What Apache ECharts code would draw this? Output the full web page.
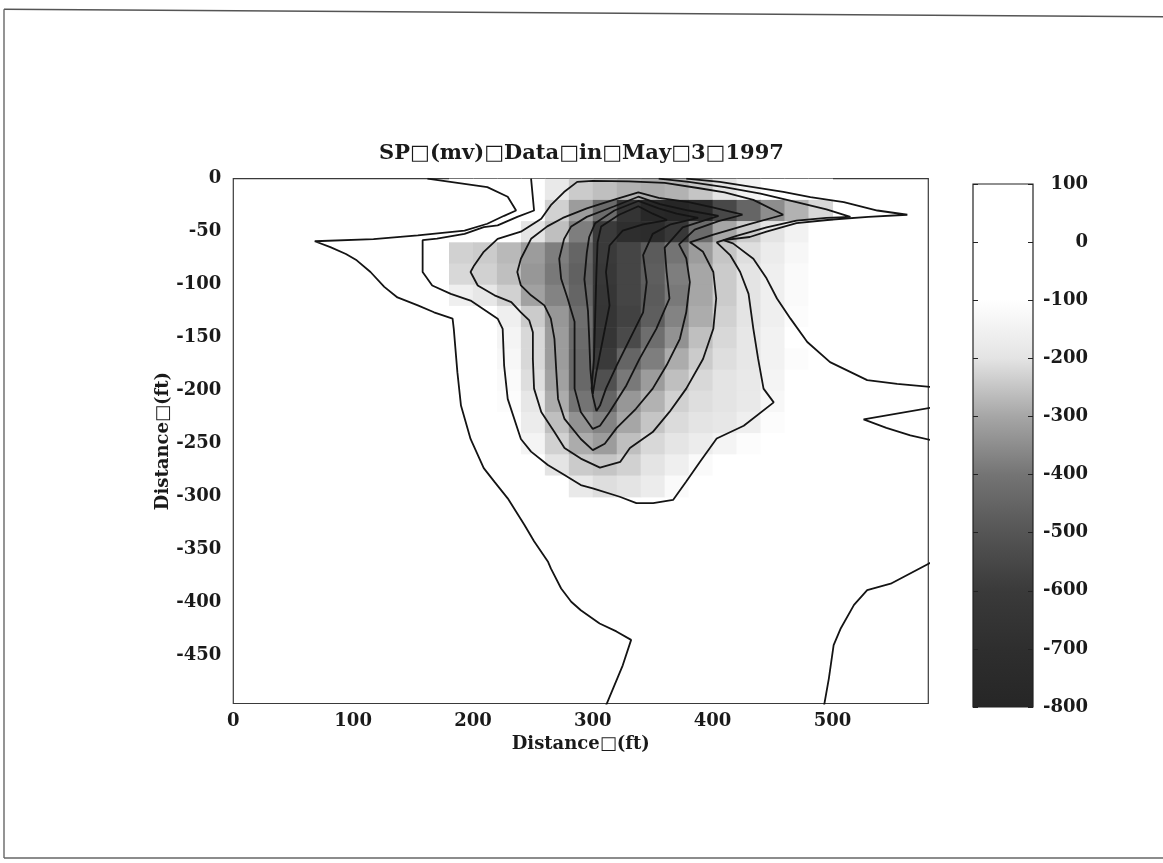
<!DOCTYPE html>
<html>
<head>
<meta charset="utf-8">
<script src="https://cdn.jsdelivr.net/npm/echarts@6/dist/echarts.min.js"></script>
<style>
  html, body { margin: 0; padding: 0; background: #fff; }
  #chart { width: 1163px; height: 863px; }
</style>
</head>
<body>
<div id="chart"></div>
<script>
// tick labels
const xTicks = [0, 100, 200, 300, 400, 500]
const yTicks = [0, -50, -100, -150, -200, -250, -300, -350, -400, -450]
const cbTicks = [100, 0, -100, -200, -300, -400, -500, -600, -700, -800]

// grey scale, from -800 mv up to 100 mv
const cmapColors = ['#262626', '#2e2e2e', '#3a3a3a', '#555555', '#747474', '#a6a6a6', '#e4e4e4', '#ffffff', '#ffffff', '#ffffff']

// SP grid (mv), cell centres in ft
const cellX = [190, 210, 230, 250, 270, 290, 310, 330, 350, 370, 390, 410, 430, 450, 470, 490]
const cellY = [-10, -30, -50, -70, -90, -110, -130, -150, -170, -190, -210, -230, -250, -270, -290]
const spGrid = [
  [0, 0, -50, -100, -180, -240, -260, -280, -290, -280, -250, -200, -150, -100, -50, 0],
  [0, -20, -60, -100, -230, -320, -430, -650, -780, -800, -750, -550, -450, -350, -280, -220],
  [0, -40, -90, -200, -260, -380, -600, -700, -720, -620, -430, -300, -240, -200, -150, -100],
  [-230, -240, -270, -320, -380, -450, -600, -560, -480, -400, -320, -250, -210, -170, -130, -90],
  [-220, -230, -260, -330, -390, -460, -620, -560, -470, -380, -300, -240, -200, -160, -120, -80],
  [-160, -190, -230, -310, -370, -450, -630, -560, -480, -390, -300, -240, -200, -160, -120, -70],
  [-60, -100, -160, -240, -330, -420, -640, -570, -470, -370, -290, -230, -200, -160, -110, -60],
  [-30, -80, -140, -220, -320, -430, -640, -540, -420, -340, -260, -220, -190, -150, -100, -50],
  [-20, -70, -130, -220, -320, -440, -600, -450, -380, -290, -240, -210, -190, -150, -110, -60],
  [-10, -60, -120, -210, -310, -440, -520, -390, -320, -260, -220, -200, -180, -140, -100, -50],
  [0, -50, -110, -190, -290, -400, -450, -330, -280, -230, -210, -200, -180, -130, -90, -40],
  [0, -30, -90, -170, -260, -340, -370, -300, -250, -215, -200, -190, -160, -110, -70, -30],
  [0, -20, -60, -140, -230, -290, -320, -260, -220, -195, -170, -140, -110, -80, -50, -20],
  [0, 0, -30, -90, -200, -240, -250, -230, -200, -160, -120, -100, -80, -50, -30, 0],
  [0, 0, 0, -30, -100, -180, -210, -200, -170, -120, -80, -60, -40, -20, 0, 0]
]
const cellW = 20
const cellH = 20

// contour lines [ft, ft]
const c0Left = [[162, 0], [212, -8], [229, -17], [236, -30], [226, -35], [212, -42.5], [193, -49], [154, -53.5], [117, -57], [68, -59], [81, -64.5], [94, -71], [103, -77], [114.5, -88], [126, -102], [137, -112], [154, -119.5], [167.5, -126], [183, -132], [184, -141.6], [187, -182.5], [190, -214], [198, -245.5], [209, -273], [218, -286], [229, -301.5], [243, -326.7], [251, -342], [262.5, -361], [265, -367.6], [273.6, -386.5], [282, -399], [290, -407], [305.7, -419.5], [319.7, -427], [332, -435], [325, -459], [311, -497]]
const c0Right = [[378, 0], [406, -3], [434, -8], [459, -12.5], [481.6, -17.3], [509.5, -22], [537.5, -30], [562.5, -34], [530, -36], [500, -38.5], [470, -42], [445, -50], [431, -55], [409, -58], [417, -61], [434, -75.5], [445, -94], [453.7, -113], [465, -132], [479, -154], [498, -173], [529, -190], [554, -193.6], [584, -196.7]]
const c100 = [[248.5, 0], [251, -30], [237, -36], [220.6, -44], [209, -45.6], [193, -52], [170, -56.6], [158, -58], [158, -88], [166, -100.7], [181.5, -108.6], [198, -115], [220.6, -132], [224.8, -141.6], [226, -176], [229, -207.7], [240, -245.5], [248.5, -257.4], [262.5, -270], [276.4, -279.5], [290, -289], [300, -292], [322.5, -300], [336.4, -306], [350.4, -306], [367, -303], [378, -285.7], [389.5, -267], [403.4, -245], [426, -233], [451, -211], [442.5, -198], [438, -170], [434, -141.6], [430, -108.6], [423, -88], [414.6, -72], [403.4, -60], [420, -54], [445, -46], [470, -39.5], [495, -37], [515, -36], [495, -29], [470, -22], [440, -14], [410, -8], [380, -3], [355, 0]]
const c200 = [[459, -34], [434, -20], [410, -13], [389, -9], [360, -4], [330, -2.5], [300, -2], [287, -3], [276, -12.6], [265, -25], [257, -37.8], [240, -50], [220.6, -56.7], [209, -69], [201, -81.8], [198, -88], [204, -100.7], [218, -110], [232, -116.4], [240, -126], [247, -133.7], [250, -144.8], [250, -170], [251, -198], [257, -220], [268, -239], [276.4, -254], [290, -264], [306, -272.5], [323, -267], [331, -254], [350, -239], [364, -220], [378, -198], [392, -170], [400.6, -141.6], [403, -113], [400.6, -88], [392, -69], [381, -60], [400, -53], [430, -43], [459, -34]]
const c300 = [[425, -34], [400, -27], [380, -22], [355, -18], [338, -13], [320, -19], [295, -28], [275, -37], [262, -45], [248.5, -56.7], [240, -75.5], [237, -88], [240, -100.7], [248.5, -110], [259.6, -119.5], [265, -132], [268, -151], [269.6, -182.5], [271, -207.7], [276.4, -226.6], [290, -245.5], [300, -256], [310, -250], [320, -235], [336, -217], [350, -198], [361.6, -176], [372.7, -151], [378, -126], [381, -97.5], [378, -75], [372, -62], [385, -48], [405, -40], [425, -34]]
const c400 = [[405, -35], [380, -30], [356, -24], [338, -17], [318, -26], [295, -36], [282, -45], [276, -57], [272, -75.5], [273.6, -94.4], [279, -113], [284.8, -135], [284.8, -166.6], [284.8, -198], [290, -220], [300, -236], [306, -233], [314, -220], [328, -195], [339, -170], [353, -141.6], [364, -113], [361.6, -88], [360, -65], [375, -46], [405, -35]]
const c500 = [[388, -37], [370, -33], [355, -28], [338, -21], [318, -30], [302, -42], [297, -55], [295, -70], [293, -95], [296, -125], [297, -150], [298, -180], [300, -205], [303, -219], [306, -214], [311, -198], [320, -176], [331, -151], [342, -126], [345, -97.5], [342, -72], [350, -52], [365, -43], [388, -37]]
const c600 = [[362, -39], [350, -33], [338, -26], [322, -34], [307, -45], [304, -60], [303, -90], [302, -130], [301, -170], [299, -198], [300, -203], [303, -182.5], [308.5, -151], [314, -119.5], [311, -88], [314, -63], [325, -49], [342, -43], [362, -39]]
const cWedge = [[584, -215.6], [526, -227], [545, -235], [565, -242], [584, -247]]
const cCorner = [[584, -361], [548.6, -382], [529, -388], [518, -402], [507, -424], [501, -440], [497, -471.5], [493, -497]]

const contours = [c0Left, c0Right, c100, c200, c300, c400, c500, c600, cWedge, cCorner]

const font = 'DejaVu Serif'
const ink = '#1a1a1a'

const chart = echarts.init(document.getElementById('chart'))

const cells = []
for (let r = 0; r < cellY.length; r++) {
  for (let c = 0; c < cellX.length; c++) {
    cells.push([cellX[c], cellY[r], spGrid[r][c]])
  }
}

const labelStyle = { color: ink, fontFamily: font, fontWeight: 'bold', fontSize: 18 }

const lineSeries = contours.map(pts => ({
  type: 'line',
  xAxisIndex: 0,
  yAxisIndex: 0,
  data: pts,
  symbol: 'none',
  silent: true,
  clip: true,
  z: 3,
  lineStyle: { color: '#141414', width: 1.8 }
}))

const cbStops = cmapColors.map((c, i) => ({ offset: i / (cmapColors.length - 1), color: c }))

const option = {
  animation: false,
  backgroundColor: '#fff',
  title: {
    text: 'SP□(mv)□Data□in□May□3□1997',
    left: 'center',
    top: 143,
    padding: 0,
    textStyle: { color: ink, fontFamily: font, fontWeight: 'bold', fontSize: 21 }
  },
  grid: [
    { left: 233.3, top: 178.7, width: 695, height: 524.8, show: true, borderColor: '#3a3a3a', borderWidth: 1.2 },
    { left: 973, top: 184, width: 60, height: 523 }
  ],
  xAxis: [
    {
      type: 'value', gridIndex: 0, min: 0, max: 580,
      axisLine: { show: false }, axisTick: { show: false }, splitLine: { show: false },
      axisLabel: Object.assign({ customValues: xTicks, margin: 9 }, labelStyle),
      name: 'Distance□(ft)', nameLocation: 'middle', nameGap: 32, nameMoveOverlap: false,
      nameTextStyle: labelStyle
    },
    { type: 'value', gridIndex: 1, min: 0, max: 1, show: false }
  ],
  yAxis: [
    {
      type: 'value', gridIndex: 0, min: -495, max: 0,
      axisLine: { show: false }, axisTick: { show: false }, splitLine: { show: false },
      axisLabel: Object.assign({ customValues: yTicks, margin: 12 }, labelStyle),
      name: 'Distance□(ft)', nameLocation: 'middle', nameGap: 61, nameMoveOverlap: false,
      nameTextStyle: labelStyle
    },
    {
      type: 'value', gridIndex: 1, min: -800, max: 100, interval: 100, position: 'left', z: 5,
      axisLine: { show: false }, splitLine: { show: false }, axisLabel: { show: false },
      axisTick: { inside: true, length: 5, lineStyle: { color: '#222' } }
    },
    {
      type: 'value', gridIndex: 1, min: -800, max: 100, interval: 100, position: 'right', z: 5,
      axisLine: { show: false }, splitLine: { show: false },
      axisTick: { inside: true, length: 5, lineStyle: { color: '#222' } },
      axisLabel: Object.assign({ customValues: cbTicks, margin: 55, align: 'right' }, labelStyle)
    }
  ],
  visualMap: {
    type: 'continuous', show: false, seriesIndex: 0, dimension: 2,
    min: -800, max: 100, inRange: { color: cmapColors }
  },
  series: [
    {
      type: 'custom',
      xAxisIndex: 0,
      yAxisIndex: 0,
      data: cells,
      encode: { x: 0, y: 1 },
      silent: true,
      z: 1,
      renderItem: function (params, api) {
        const x = api.value(0)
        const y = api.value(1)
        const a = api.coord([x - cellW / 2, y + cellH / 2])
        const b = api.coord([x + cellW / 2, y - cellH / 2])
        return {
          type: 'rect',
          shape: { x: a[0], y: a[1], width: b[0] - a[0] + 0.6, height: b[1] - a[1] + 0.6 },
          style: { fill: api.visual('color') }
        }
      }
    },
    ...lineSeries,
    {
      type: 'custom',
      xAxisIndex: 1,
      yAxisIndex: 1,
      data: [[0, -800, 1, 100]],
      silent: true,
      z: 2,
      renderItem: function (params, api) {
        const a = api.coord([api.value(0), api.value(3)])
        const b = api.coord([api.value(2), api.value(1)])
        return {
          type: 'rect',
          shape: { x: a[0], y: a[1], width: b[0] - a[0], height: b[1] - a[1] },
          style: {
            fill: new echarts.graphic.LinearGradient(0, 1, 0, 0, cbStops),
            stroke: '#222',
            lineWidth: 1.2
          }
        }
      }
    }
  ],
  graphic: [
    { type: 'line', shape: { x1: 4, y1: 9.3, x2: 1163, y2: 16.7 }, style: { stroke: '#555', lineWidth: 1.6 } },
    { type: 'line', shape: { x1: 4, y1: 9.3, x2: 4, y2: 858 }, style: { stroke: '#666', lineWidth: 1.4 } },
    { type: 'line', shape: { x1: 4, y1: 858, x2: 1163, y2: 858 }, style: { stroke: '#666', lineWidth: 1.4 } }
  ]
}

chart.setOption(option)
</script>
</body>
</html>
